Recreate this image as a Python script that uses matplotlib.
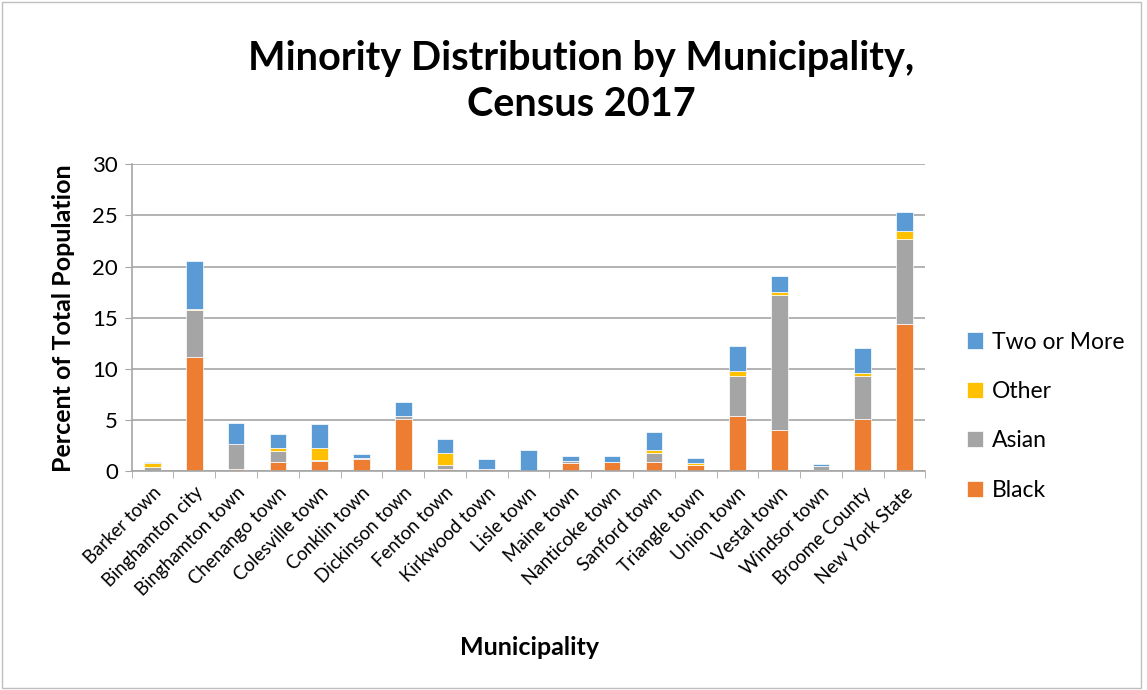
import numpy as np
import matplotlib.pyplot as plt
from matplotlib.patches import Rectangle

plt.rcParams['font.family'] = ['Lato', 'DejaVu Sans']

places = ["Barker town", "Binghamton city", "Binghamton town", "Chenango town",
          "Colesville town", "Conklin town", "Dickinson town", "Fenton town",
          "Kirkwood town", "Lisle town", "Maine town", "Nanticoke town",
          "Sanford town", "Triangle town", "Union town", "Vestal town",
          "Windsor town", "Broome County", "New York State"]

black = [0.0, 11.2, 0.25, 0.9, 1.05, 1.25, 5.1, 0.25, 0.25, 0.0, 0.8, 0.9,
         0.9, 0.6, 5.45, 4.0, 0.1, 5.1, 14.4]
asian = [0.4, 4.6, 2.45, 1.1, 0.05, 0.05, 0.3, 0.35, 0.0, 0.0, 0.2, 0.05,
         0.9, 0.05, 3.9, 13.2, 0.4, 4.2, 8.3]
other = [0.4, 0.1, 0.0, 0.25, 1.2, 0.0, 0.0, 1.2, 0.0, 0.0, 0.0, 0.0,
         0.3, 0.2, 0.45, 0.3, 0.0, 0.3, 0.8]
two_more = [0.15, 4.6, 2.0, 1.45, 2.35, 0.45, 1.4, 1.4, 0.95, 2.1, 0.55, 0.6,
            1.75, 0.45, 2.4, 1.6, 0.2, 2.4, 1.8]

series = [("Black", black, "#ED7D31"), ("Asian", asian, "#A5A5A5"),
          ("Other", other, "#FFC000"), ("Two or More", two_more, "#5B9BD5")]

fig = plt.figure(figsize=(11.47, 6.9), dpi=100)
ax = fig.add_axes([0.1148, 0.3167, 0.692, 0.4456])

x = np.arange(len(places))
bottom = np.zeros(len(places))
handles = []
for name, vals, col in series:
    b = ax.bar(x, vals, width=0.4, bottom=bottom, color=col,
               edgecolor="white", linewidth=0.5, label=name)
    handles.append(b)
    bottom += np.array(vals)

ax.set_xlim(-0.5, len(places) - 0.5)
ax.set_ylim(0, 30)
ax.set_yticks(range(0, 31, 5))
ax.tick_params(axis="y", labelsize=16, length=5, color="#A6A6A6", pad=5)
ax.yaxis.grid(True, color="#A6A6A6", linewidth=1.2)
ax.set_axisbelow(True)

ax.set_xticks(x)
ax.set_xticklabels(places, rotation=45, ha="right", rotation_mode="anchor",
                   fontsize=13.4)
ax.set_xticks(np.arange(-0.5, len(places)), minor=True)
ax.tick_params(axis="x", which="major", length=0, pad=9)
ax.tick_params(axis="x", which="minor", length=5, color="#A6A6A6")

for s in ["top", "right"]:
    ax.spines[s].set_visible(False)
ax.spines["left"].set_color("#A6A6A6")
ax.spines["bottom"].set_color("#A6A6A6")
ax.spines["left"].set_linewidth(1.2)
ax.spines["bottom"].set_linewidth(1.2)

ax.set_ylabel("Percent of Total Population", fontsize=18, fontweight="bold",
              labelpad=12)
fig.text(0.4615, 0.062, "Municipality", fontsize=18, fontweight="bold",
         ha="center", va="center")

fig.text(0.507, 0.915, "Minority Distribution by Municipality,", fontsize=28.5,
         fontweight="bold", ha="center", va="center")
fig.text(0.507, 0.848, "Census 2017", fontsize=28.5, fontweight="bold",
         ha="center", va="center")

leg = ax.legend(handles[::-1], [s[0] for s in series][::-1],
                loc="center left", bbox_to_anchor=(1.026, 0.18), frameon=False,
                fontsize=16.5, handlelength=0.7, handleheight=0.7,
                labelspacing=1.24, handletextpad=0.4)

fig.patches.append(Rectangle((0.002, 0.003), 0.993, 0.994,
                             transform=fig.transFigure, fill=False,
                             edgecolor="#BFBFBF", linewidth=1))

plt.savefig("out.png", dpi=100)
